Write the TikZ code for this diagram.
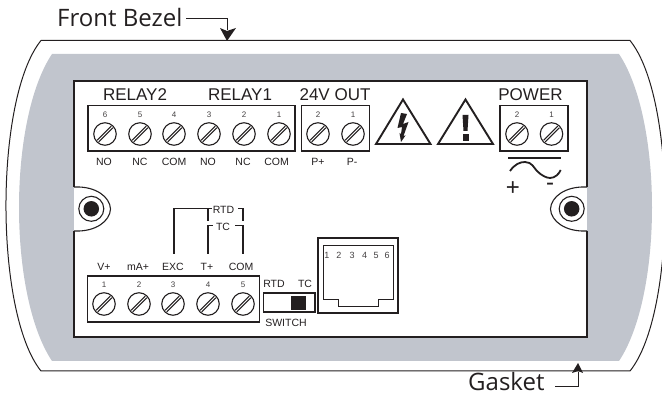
\documentclass[tikz,border=0pt]{standalone}
\usepackage{fontspec}
\setmainfont{Liberation Sans}
\newfontfamily\callout{Open Sans}
\definecolor{ink}{HTML}{231F20}
\definecolor{gasketgrey}{HTML}{C1C5CD}
\newcommand{\fs}[1]{\fontsize{#1}{#1}\selectfont}
\tikzset{
  lbl/.style={inner sep=0pt,text=ink,font=\fs{10.5}},
  numlbl/.style={inner sep=0pt,text=ink!85,font=\fs{8}},
  title/.style={inner sep=0pt,text=ink,font=\fs{17}},
  calloutlbl/.style={inner sep=0pt,text=ink,font=\callout\fs{24}},
  boxline/.style={draw=ink,line width=1.1pt},
  wire/.style={draw=ink,line width=1.1pt},
  screwhead/.style={circle,draw=ink,line width=1.1pt,minimum size=22.5pt,inner sep=0pt},
  mounthole/.style={circle,draw=ink,line width=1.1pt,minimum size=25pt,inner sep=0pt},
  mountdot/.style={circle,fill=ink,minimum size=15.5pt,inner sep=0pt},
  warn/.style={draw=ink,line width=1.9pt,line join=miter,fill=white}
}
\newcommand{\screw}[4]{%
  \node[screwhead] (s#1) at (#2,#3) {};
  \draw[ink,line width=1pt] ($(s#1.center)+(-7.9,6.3)$) -- ($(s#1.center)+(6.3,-7.9)$);
  \draw[ink,line width=1pt] ($(s#1.center)+(-6.3,7.9)$) -- ($(s#1.center)+(7.9,-6.3)$);
  \node[numlbl] (n#1) at (#2,#3-19) {#4};
}
\usetikzlibrary{calc,arrows.meta}
\begin{document}
\begin{tikzpicture}[x=1pt,y=-1pt]
\useasboundingbox (0,0) rectangle (662,398);
% bezel
\draw[ink,line width=1pt] (41,40.5) -- (630,40.5) .. controls (676.7,98) and (676.7,313) .. (630,371) -- (41,371) .. controls (-5.7,313) and (-5.7,98) .. (41,40.5) -- cycle;
% gasket
\fill[gasketgrey] (52,54) -- (619,54) .. controls (663,120) and (663,295) .. (619,361) -- (52,361) .. controls (8,295) and (8,120) .. (52,54) -- cycle;
% panel
\fill[white] (74,81) rectangle (587,337);
\draw[boxline] (74,187) -- (74,81) -- (587,81) -- (587,187);
\draw[boxline] (74,231) -- (74,337) -- (587,337) -- (587,231);
\draw[boxline] (74,187) .. controls (96,186) and (110,197) .. (110.5,209) .. controls (110,221) and (96,232) .. (74,231);
\draw[boxline] (587,187) .. controls (565,186) and (551,197) .. (550.5,209) .. controls (551,221) and (565,232) .. (587,231);
\node[mounthole] (mhl) at (91.3,208.8) {};
\node[mountdot] (mdl) at (mhl.center) {};
\node[mounthole] (mhr) at (571.7,208.8) {};
\node[mountdot] (mdr) at (mhr.center) {};
% terminal blocks
\draw[boxline] (88,105.5) rectangle (295,151);
\draw[boxline] (301.7,105.5) rectangle (369.7,151);
\draw[boxline] (500,105.5) rectangle (568,151);
\draw[boxline] (87.5,276) rectangle (259.5,322);
% titles
\node[title] (trelay2) at (135,95) {RELAY2};
\node[title] (trelay1) at (240,95) {RELAY1};
\node[title] (t24) at (335,95) {24V OUT};
\node[title] (tpower) at (530.5,95) {POWER};
% top screws
\screw{a}{105}{134}{6}
\screw{b}{140}{134}{5}
\screw{c}{174}{134}{4}
\screw{d}{209}{134}{3}
\screw{e}{244}{134}{2}
\screw{f}{279}{134}{1}
\screw{g}{318}{134}{2}
\screw{h}{353}{134}{1}
\screw{i}{517}{134}{2}
\screw{j}{551.5}{134}{1}
\foreach \n/\x/\t in {l1/104/NO,l2/140/NC,l3/174/COM,l4/208/NO,l5/243/NC,l6/276.5/COM,l7/318/P+,l8/352/P-}
  \node[lbl] (\n) at (\x,162) {\t};
% bottom screws
\screw{p}{104}{304}{1}
\screw{q}{139}{304}{2}
\screw{r}{173}{304}{3}
\screw{s}{208}{304}{4}
\screw{t}{243}{304}{5}
\node[lbl] (vp) at (104,267) {V+};
\node[lbl] (map) at (138,267) {mA+};
\node[lbl] (exc) at (173,267) {EXC};
\node[lbl] (tp) at (207,267) {T+};
\node[lbl] (com) at (241,267) {COM};
% RTD / TC wiring
\node[lbl] (rtd) at (223.5,210) {RTD};
\node[lbl] (tc) at (223,227) {TC};
\coordinate (excend) at (174,254);
\coordinate (tpend) at (208,254);
\coordinate (comend) at (243,254);
\coordinate (rtdl) at ($(rtd.west)+(-0.5,-1.3)$);
\coordinate (rtdr) at ($(rtd.east)+(4,-1.5)$);
\coordinate (tcl) at ($(tc.west)+(-3,-1.8)$);
\coordinate (tcr) at ($(tc.east)+(5,-1.8)$);
\draw[wire] (excend) |- (rtdl);
\draw[wire] (208,208.7) -- (208,221);
\draw[wire] (tpend) |- (tcl);
\draw[wire] (comend) |- (tcr);
\draw[wire] (rtdr) -| (243,221);
% switch
\node[lbl] (srtd) at (274,284) {RTD};
\node[lbl] (stc) at (305,284) {TC};
\node[lbl] (ssw) at (286,323) {SWITCH};
\draw[boxline] (263.5,293) rectangle (315,312);
\fill[ink] (291,296) rectangle (306,310);
% connector
\draw[boxline] (318,238) rectangle (398,313);
\draw[ink,line width=1pt] (323.5,246) -- (393,246) -- (393,300) -- (378,300) -- (378,307) -- (338,307) -- (338,300) -- (323.5,300) -- cycle;
\foreach \n/\x/\t in {k1/327/1,k2/339/2,k3/352/3,k4/364.5/4,k5/376/5,k6/387/6}
  \node[inner sep=0pt,text=ink!85,font=\fs{9}] (\n) at (\x,255) {\t};
% warnings
\draw[warn] (403,99.5) -- (430.5,144) -- (376,144) -- cycle;
\fill[ink] (401,113) -- (407,114) -- (403,124) -- (408.5,122) -- (403.5,136) -- (405.5,135.5) -- (401,142) -- (399.5,133) -- (401,134) -- (402,127) -- (397.5,128) -- cycle;
\draw[warn] (465.5,99.5) -- (493,144) -- (438,144) -- cycle;
\fill[ink] (462.5,115) -- (468.5,115) -- (467.5,131) -- (463.5,131) -- cycle;
\fill[ink] (462.5,134.5) rectangle (468.5,141);
% AC symbol
\draw[ink,line width=2.2pt] (508.3,158.3) -- (561,158.3);
\draw[ink,line width=1.8pt] (510,171) .. controls (515,164) and (520,162) .. (525,162) .. controls (532,162) and (534,168) .. (537,171) .. controls (541,175) and (546,178) .. (550,178) .. controls (555,178) and (559,174) .. (560.7,170);
\node[inner sep=0pt,text=ink,font=\fs{24}] (plus) at (513,189) {+};
\node[inner sep=0pt,text=ink,font=\fs{24}] (minus) at (550,186.5) {-};
% callouts
\node[calloutlbl,anchor=base west] (fb) at (57,26.7) {Front Bezel};
\coordinate (fbtip) at (227,41);
\draw[ink,line width=1pt] (186,19) -| (227,30);
\fill[ink] (fbtip) -- (220,28) -- (227,31) -- (236,28) -- cycle;
\node[calloutlbl,anchor=base west] (gk) at (468,390.5) {Gasket};
\coordinate (gktip) at (578,363);
\draw[ink,line width=1pt] (555,386) -| (578,372);
\fill[ink] (gktip) -- (572,373) -- (578,371) -- (583,373) -- cycle;
\end{tikzpicture}
\end{document}
